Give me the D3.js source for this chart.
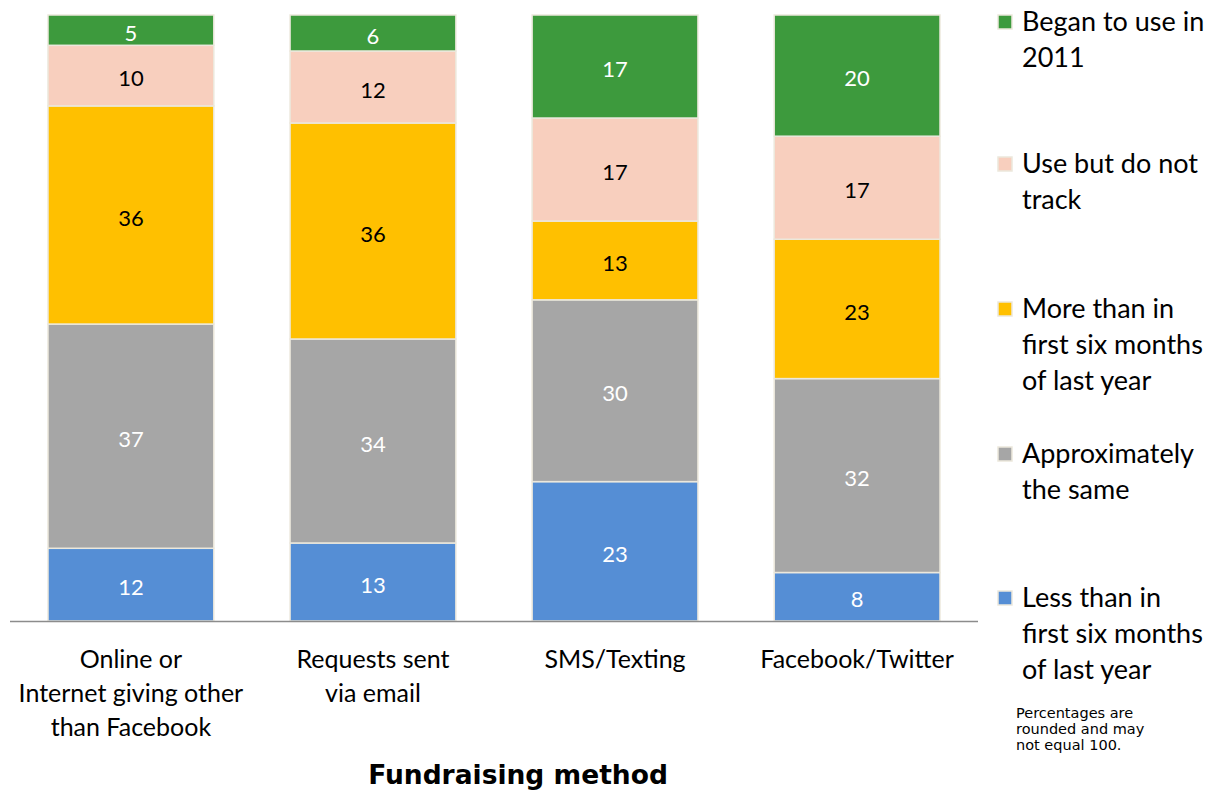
<!DOCTYPE html>
<html><head><meta charset="utf-8">
<script src="https://cdn.jsdelivr.net/npm/d3@7"></script>
<style>body{margin:0;background:#fff}svg{display:block}</style>
</head><body>
<svg id="c" width="1214" height="791"></svg>
<script>
const categories = [["Online or","Internet giving other","than Facebook"],["Requests sent","via email"],["SMS/Texting"],["Facebook/Twitter"]];
const seriesNames = ["Less than in first six months of last year","Approximately the same","More than in first six months of last year","Use but do not track","Began to use in 2011"];
const lessThan = [12,13,23,8];
const sameAs = [37,34,30,32];
const moreThan = [36,36,13,23];
const noTrack = [10,12,17,17];
const began = [5,6,17,20];
const legendLines = [["Began to use in","2011"],["Use but do not","track"],["More than in","first six months","of last year"],["Approximately","the same"],["Less than in","first six months","of last year"]];
const colors = ["#558ed5","#a6a6a6","#ffc000","#f8cfbe","#3d9a3d"];
const textColors = ["#fff","#fff","#000","#000","#fff"];

const svg = d3.select("#c");
const font = "Lato, 'Open Sans', sans-serif";
const x = d3.scaleBand().domain(d3.range(categories.length)).range([10,978]).paddingInner(0.315).paddingOuter(0.157);
const y = d3.scaleLinear().domain([0,1]).range([621,15]);
const series = [lessThan,sameAs,moreThan,noTrack,began];
const rows = categories.map((c,i)=>{const o={i}; series.forEach((s,k)=>o["s"+k]=s[i]); return o;});
const stack = d3.stack().keys(series.map((s,k)=>"s"+k)).offset(d3.stackOffsetExpand);
const stacked = stack(rows);

stacked.forEach((layer,k)=>{
  const g = svg.append("g");
  g.selectAll("rect").data(layer).join("rect")
    .attr("x",d=>x(d.data.i)).attr("width",x.bandwidth())
    .attr("y",d=>y(d[1])).attr("height",d=>y(d[0])-y(d[1]))
    .attr("fill",colors[k]).attr("stroke","#ece8dc").attr("stroke-width",1.5);
  g.selectAll("text").data(layer).join("text")
    .attr("x",d=>x(d.data.i)+x.bandwidth()/2).attr("y",d=>(y(d[0])+y(d[1]))/2+3)
    .attr("dy","0.35em").attr("text-anchor","middle")
    .attr("font-family",font).attr("font-size",22).attr("fill",textColors[k])
    .text(d=>d.data["s"+k]);
});

svg.append("line").attr("x1",10).attr("x2",978).attr("y1",621.5).attr("y2",621.5).attr("stroke","#8c8c8c").attr("stroke-width",1.5);

categories.forEach((lines,i)=>{
  const t = svg.append("text").attr("text-anchor","middle").attr("font-family",font).attr("font-size",25).attr("fill","#000");
  lines.forEach((l,j)=>t.append("tspan").attr("x",x(i)+x.bandwidth()/2).attr("y",668+j*34).text(l));
});

svg.append("text").attr("x",518).attr("y",784).attr("text-anchor","middle")
  .attr("font-family","'DejaVu Sans', Verdana, sans-serif").attr("font-weight","bold").attr("font-size",26.5).text("Fundraising method");

const legendY = [22,164,309,454,598];
legendLines.forEach((lines,k)=>{
  const ci = 4-k;
  svg.append("rect").attr("x",998).attr("y",legendY[k]-7).attr("width",14).attr("height",14)
    .attr("fill",colors[ci]).attr("stroke","#ece8dc").attr("stroke-width",1.5);
  const t = svg.append("text").attr("font-family",font).attr("font-size",27).attr("fill","#000");
  lines.forEach((l,j)=>t.append("tspan").attr("x",1022).attr("y",legendY[k]+j*36).attr("dy","0.35em").text(l));
});

const note = ["Percentages are","rounded and may","not equal 100."];
const nt = svg.append("text").attr("font-family","'DejaVu Sans', Verdana, sans-serif").attr("font-size",14.5).attr("fill","#000");
note.forEach((l,j)=>nt.append("tspan").attr("x",1016).attr("y",718+j*16).text(l));
</script>
</body></html>
